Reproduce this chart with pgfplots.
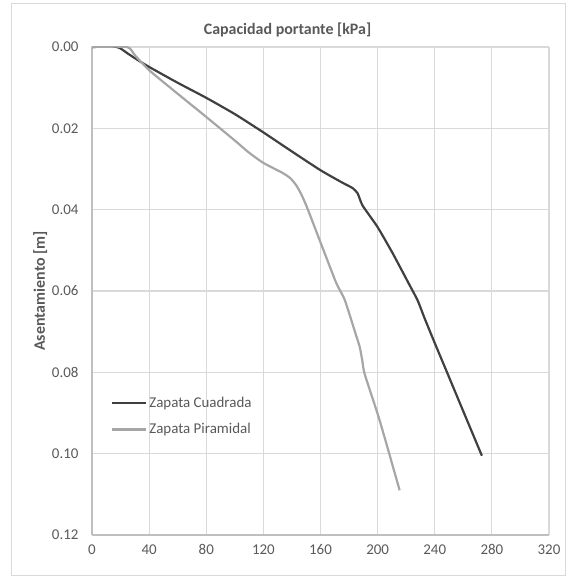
\documentclass[border=0pt]{standalone}
\usepackage{fontspec}
\setmainfont{Carlito}
\usepackage{pgfplots}
\pgfplotsset{compat=1.18}
\definecolor{txtgray}{RGB}{89,89,89}
\definecolor{gridgray}{RGB}{217,217,217}
\definecolor{axgray}{RGB}{191,191,191}
\definecolor{cuadrada}{RGB}{64,64,64}
\definecolor{piramidal}{RGB}{166,166,166}
\begin{document}
\begin{tikzpicture}[x=1bp,y=1bp]
% chart area frame
\draw[gridgray,line width=1bp] (-80,-40) rectangle (473,531);
\path (-92,-41) rectangle (474,535);
\begin{axis}[
  at={(0,0)}, anchor=south west,
  scale only axis,
  width=457bp, height=488bp,
  xmin=0, xmax=320, ymin=0, ymax=0.12,
  y dir=reverse,
  xtick={0,40,...,320},
  ytick={0,0.02,...,0.12},
  yticklabel style={/pgf/number format/fixed,/pgf/number format/fixed zerofill,/pgf/number format/precision=2},
  /pgf/number format/assume math mode=true,
  scaled y ticks=false,
  grid=major,
  major grid style={gridgray,line width=1.2bp},
  axis line style={axgray,line width=1.2bp},
  axis x line*=bottom, axis y line*=left,
  tick style={draw=none},
  ticklabel style={font=\fontsize{15}{18}\selectfont, text=txtgray},
  xticklabel style={yshift=-6bp},
  yticklabel style={xshift=-10bp},
  title={\textbf{Capacidad portante [kPa]}},
  title style={font=\fontsize{16}{19}\selectfont, text=txtgray, xshift=-33bp},
  ylabel={\textbf{Asentamiento [m]}},
  ylabel style={font=\fontsize{16}{19}\selectfont, text=txtgray, yshift=-2bp},
  legend style={at={(0.035,0.292)}, anchor=north west, draw=none, fill=none,
    font=\fontsize{15}{18}\selectfont, text=txtgray, row sep=11bp,
    /tikz/every odd column/.append style={column sep=0bp}},
  legend cell align=left,
  legend image code/.code={\draw[#1,line width=2.2bp] (0bp,0bp) -- (34bp,0bp);},
]
\addplot[cuadrada, line width=2.2bp, line join=round, smooth, tension=0.35] coordinates {
  (0,0) (17.5,0) (25,0.0016) (32,0.0032) (40,0.0049) (60,0.0088) (80,0.0125)
  (100,0.0165) (120,0.0210) (140,0.0257) (160,0.0303) (175,0.0333)
  (182.5,0.0347) (186,0.0360) (189.5,0.0390) (200,0.0443) (210.5,0.0507)
  (222,0.0583) (228,0.0623) (233,0.0668) (240,0.0728) (248,0.0795) (260,0.0896)
  (273,0.1005)
};
\addlegendentry{Zapata Cuadrada}
\addplot[piramidal, line width=2.2bp, line join=round, smooth, tension=0.35] coordinates {
  (0,0) (24.5,0) (30,0.0020) (40,0.0057) (60,0.0115) (80,0.0172)
  (100,0.0230) (110,0.0260) (120,0.0285) (133.6,0.0310) (139,0.0323)
  (143,0.0340) (146.5,0.0362) (150.4,0.0393) (159.4,0.0475) (171,0.0580)
  (177,0.0622) (185,0.0710) (187.5,0.0738) (189.3,0.0772) (191,0.0805)
  (201.4,0.0918) (215.4,0.1090)
};
\addlegendentry{Zapata Piramidal}
\end{axis}
\end{tikzpicture}
\end{document}
